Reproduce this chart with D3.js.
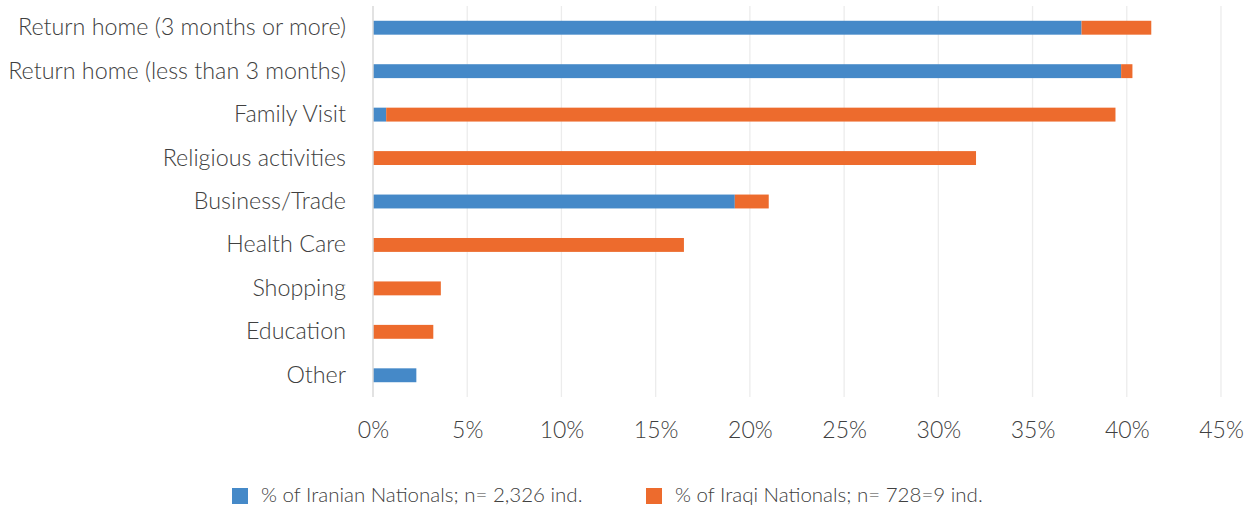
<!DOCTYPE html>
<html>
<head>
<meta charset="utf-8">
<script src="https://cdn.jsdelivr.net/npm/d3@7"></script>
<style>
  html, body { margin: 0; padding: 0; background: #fff; }
  svg { display: block; }
  text { font-family: Lato, "Open Sans", sans-serif; font-weight: 300; fill: #404040; }
</style>
</head>
<body>
<svg id="chart" width="1253" height="508"></svg>
<script>
const categories = [
  "Return home (3 months or more)",
  "Return home (less than 3 months)",
  "Family Visit",
  "Religious activities",
  "Business/Trade",
  "Health Care",
  "Shopping",
  "Education",
  "Other"
];
const iranianValues = [37.6, 39.7, 0.7, 0, 19.2, 0, 0, 0, 2.3];
const iraqiValues   = [3.7, 0.6, 38.7, 32.0, 1.8, 16.5, 3.6, 3.2, 0];
const seriesNames = ["% of Iranian Nationals; n= 2,326 ind.", "% of Iraqi Nationals; n= 728=9 ind."];
const seriesColors = ["#4589C8", "#ED6B2D"];
const xTicks = [0, 5, 10, 15, 20, 25, 30, 35, 40, 45];

const svg = d3.select("#chart");
const margin = { left: 373, right: 32, top: 6, bottom: 111 };
const W = 1253, H = 508;
const FONT = "Lato, 'Open Sans', sans-serif";

const x = d3.scaleLinear().domain([0, 45]).range([margin.left, W - margin.right]);
const y = d3.scaleBand().domain(categories).range([margin.top, H - margin.bottom]).paddingInner(0.68).paddingOuter(0.34);

const data = categories.map((c, i) => ({ cat: c, v: [iranianValues[i], iraqiValues[i]] }));
const stack = d3.stack().keys([0, 1]).value((d, k) => d.v[k]);
const stacked = stack(data);

// gridlines
svg.append("g").selectAll("line").data(xTicks.slice(1)).join("line")
  .attr("x1", d => x(d)).attr("x2", d => x(d))
  .attr("y1", margin.top).attr("y2", H - margin.bottom)
  .attr("stroke", "#ececec").attr("stroke-width", 1.3);

// bars
svg.append("g").selectAll("g").data(stacked).join("g")
  .attr("fill", (d, i) => seriesColors[i])
  .selectAll("rect").data(d => d.filter(s => s[1] - s[0] > 0)).join("rect")
  .attr("x", d => x(d[0]))
  .attr("width", d => x(d[1]) - x(d[0]))
  .attr("y", d => y(d.data.cat))
  .attr("height", y.bandwidth());

// zero axis line
svg.append("line")
  .attr("x1", x(0)).attr("x2", x(0))
  .attr("y1", margin.top).attr("y2", H - margin.bottom)
  .attr("stroke", "#d9d9d9").attr("stroke-width", 1.5);

// y axis labels
const yAxis = d3.axisLeft(y).tickSize(0).tickPadding(27);
const gy = svg.append("g").attr("transform", `translate(${x(0)},0)`).call(yAxis);
gy.select(".domain").remove();
gy.selectAll("text").attr("font-size", 23.3).attr("fill", "#404040")
  .style("font-family", FONT).style("font-weight", 300);

// x axis labels
const xAxis = d3.axisBottom(x).tickValues(xTicks).tickFormat(d => d + "%").tickSize(0).tickPadding(25);
const gx = svg.append("g").attr("transform", `translate(0,${H - margin.bottom})`).call(xAxis);
gx.select(".domain").remove();
gx.selectAll("text").attr("font-size", 23).attr("fill", "#404040")
  .style("font-family", FONT).style("font-weight", 300);

// legend
const legendItems = [{ x: 232 }, { x: 646 }];
const lg = svg.append("g");
legendItems.forEach((it, i) => {
  lg.append("rect").attr("x", it.x).attr("y", 488).attr("width", 16).attr("height", 16).attr("fill", seriesColors[i]);
  lg.append("text").attr("x", it.x + 29).attr("y", 495).attr("dy", "0.35em")
    .attr("font-size", 20.5).text(seriesNames[i]);
});
</script>
</body>
</html>
